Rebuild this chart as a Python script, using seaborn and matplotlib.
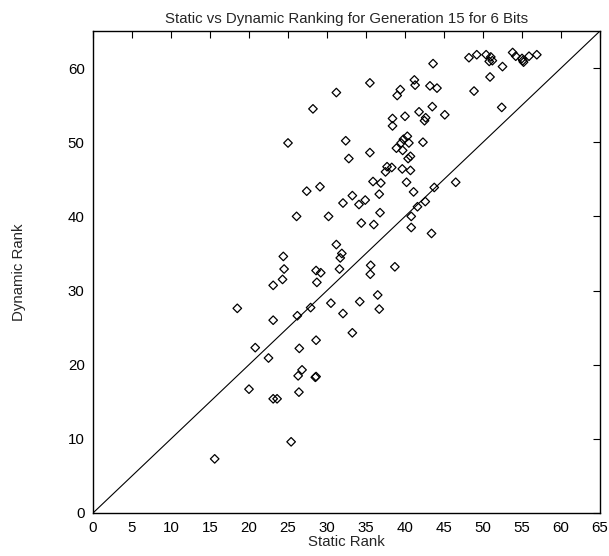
import pandas as pd
import seaborn as sns
import matplotlib
matplotlib.use('Agg')
import matplotlib.pyplot as plt

# Static rank vs dynamic rank
static_rank = [15.6, 18.5, 20.0, 20.8, 22.5, 23.1, 23.1, 23.1, 23.6, 24.3,
               24.4, 24.5, 25.0, 25.4, 26.1, 26.2, 26.3, 26.4, 26.45, 26.8,
               27.4, 27.9, 28.2, 28.5, 28.6, 28.6, 28.6, 28.7, 29.1, 29.2,
               30.2, 30.5, 31.2, 31.2, 31.6, 31.7, 31.9, 32.05, 32.05, 32.4,
               32.8, 33.25, 33.25, 34.1, 34.2, 34.4, 34.9, 35.5, 35.5, 35.55,
               35.6, 35.9, 36.0, 36.5, 36.7, 36.7, 36.8, 36.9, 37.5, 37.7,
               38.3, 38.4, 38.4, 38.7, 38.9, 39.0, 39.4, 39.5, 39.65, 39.7,
               39.8, 40.0, 40.2, 40.3, 40.4, 40.5, 40.7, 40.7, 40.8, 40.8,
               41.1, 41.2, 41.3, 41.6, 41.8, 42.3, 42.5, 42.6, 42.65, 43.2,
               43.4, 43.5, 43.6, 43.75, 44.1, 45.1, 46.5, 48.2, 48.85, 49.2,
               50.4, 50.8, 51.0, 51.2, 50.9, 52.4, 52.5, 53.8, 54.2, 55.0,
               55.1, 55.2, 55.9, 56.9]
dynamic_rank = [7.3, 27.6, 16.7, 22.3, 20.9, 30.7, 26.0, 15.4, 15.4, 31.5,
                34.6, 32.9, 49.9, 9.6, 40.0, 26.6, 18.5, 16.3, 22.2, 19.3,
                43.4, 27.7, 54.5, 18.3, 18.4, 23.3, 32.7, 31.1, 44.0, 32.4,
                40.0, 28.3, 56.7, 36.2, 32.9, 34.4, 35.0, 26.9, 41.8, 50.2,
                47.8, 24.3, 42.8, 41.6, 28.5, 39.1, 42.2, 58.0, 48.6, 32.2,
                33.4, 44.7, 38.9, 29.4, 27.5, 43.0, 40.5, 44.5, 46.0, 46.7,
                46.6, 53.2, 52.2, 33.2, 49.2, 56.3, 57.1, 49.9, 46.4, 48.9,
                50.4, 53.5, 44.6, 50.8, 47.8, 49.9, 48.1, 46.2, 40.0, 38.5,
                43.3, 58.4, 57.7, 41.3, 54.1, 50.0, 52.9, 42.0, 53.3, 57.6,
                37.7, 54.8, 60.6, 43.9, 57.3, 53.7, 44.6, 61.4, 56.9, 61.8,
                61.8, 60.9, 61.5, 61.0, 58.8, 54.7, 60.2, 62.1, 61.6, 61.3,
                61.0, 60.8, 61.6, 61.8]
diagonal = [0, 65]
ticks = list(range(0, 70, 5))
yticks = list(range(0, 70, 10))

sns.set_style("white")
plt.rcParams['font.family'] = ['Liberation Sans', 'DejaVu Sans']

df = pd.DataFrame({'static': static_rank, 'dynamic': dynamic_rank})

fig = plt.figure(figsize=(6.09, 5.56), dpi=100)
ax = fig.add_axes([93 / 609, 1 - 513 / 556, 507 / 609, 482 / 556])

ax.plot(diagonal, diagonal, color='black', lw=0.8)
sns.scatterplot(data=df, x='static', y='dynamic', ax=ax, marker='D', s=19,
                facecolor='none', edgecolor='black', linewidth=0.9)

ax.set_xlim(0, 65)
ax.set_ylim(0, 65)
ax.set_xticks(ticks)
ax.set_yticks(yticks)
ax.tick_params(direction='in', length=5, width=0.8, top=True, right=True,
               labelsize=10.8, colors='black', pad=6)
for sp in ax.spines.values():
    sp.set_color('black')
    sp.set_linewidth(1.0)

fs = 10.8
ax.set_title('Static vs Dynamic Ranking for Generation 15 for 6 Bits', fontsize=fs, pad=6)
ax.set_xlabel('Static Rank', fontsize=fs, labelpad=0)
ax.set_ylabel('Dynamic Rank', fontsize=fs, labelpad=30)

fig.savefig('out.png', dpi=100)
